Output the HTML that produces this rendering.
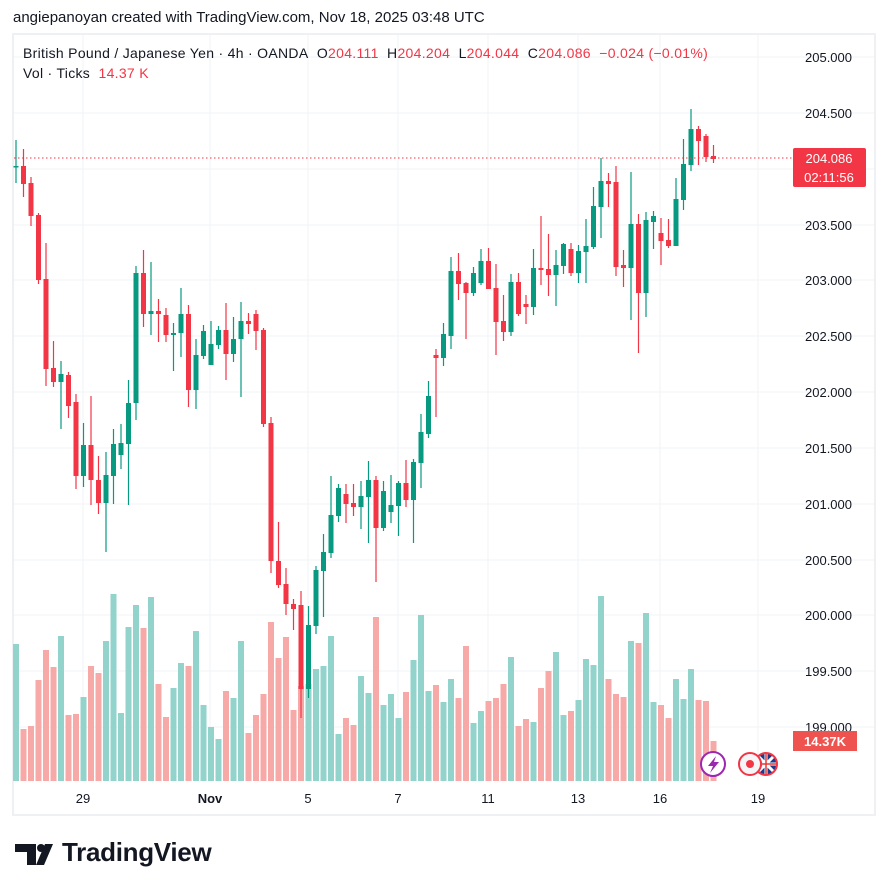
<!DOCTYPE html>
<html><head><meta charset="utf-8">
<style>
body{margin:0;background:#fff;width:887px;height:891px;overflow:hidden;font-family:"Liberation Sans",sans-serif;color:#131722;}
svg{position:absolute;left:0;top:0;}
.t{position:absolute;white-space:nowrap;}
</style></head><body>
<svg id="c" width="887" height="891" xmlns="http://www.w3.org/2000/svg"></svg>
<div class="t" style="left:13px;top:9px;font-size:15px;">angiepanoyan created with TradingView.com, Nov 18, 2025 03:48 UTC</div>
<div class="t" style="left:23px;top:45px;font-size:14px;letter-spacing:0.3px;">British Pound / Japanese Yen · 4h · OANDA&nbsp; O<span style="color:#f23645">204.111</span>&nbsp; H<span style="color:#f23645">204.204</span>&nbsp; L<span style="color:#f23645">204.044</span>&nbsp; C<span style="color:#f23645">204.086</span>&nbsp; <span style="color:#f23645">−0.024 (−0.01%)</span></div>
<div class="t" style="left:23px;top:65px;font-size:14px;letter-spacing:0.3px;">Vol · Ticks&nbsp; <span style="color:#f23645">14.37 K</span></div>
<div class="t" style="left:62px;top:837px;font-size:26px;font-weight:bold;color:#131722;letter-spacing:-0.3px;">TradingView</div>
<script>
var s=document.getElementById('c');var ns='http://www.w3.org/2000/svg';
function el(t,a,txt){var e=document.createElementNS(ns,t);for(var k in a)e.setAttribute(k,a[k]);if(txt!==undefined)e.textContent=txt;s.appendChild(e);return e;}
el('rect',{x:13,y:34,width:862,height:781,fill:'none',stroke:'#eef0f3','stroke-width':2});
var py=[57,113,169,225,280,336,392,448,504,560,615,671,727];
var pl=['205.000','204.500','204.000','203.500','203.000','202.500','202.000','201.500','201.000','200.500','200.000','199.500','199.000'];
py.forEach(function(y){el('line',{x1:14,x2:874,y1:y,y2:y,stroke:'#f2f3f5','stroke-width':1});});
var dx=[83,210,308,398,488,578,660,758],dl=['29','Nov','5','7','11','13','16','19'];
dx.forEach(function(x){el('line',{x1:x,x2:x,y1:35,y2:781,stroke:'#f2f3f5','stroke-width':1});});
py.forEach(function(y,i){if(i!=12)el('text',{x:805,y:y+5,'font-size':13,fill:'#131722','font-family':'Liberation Sans'},pl[i]);});
el('text',{x:805,y:732,'font-size':13,fill:'#131722','font-family':'Liberation Sans'},'199.000');
dx.forEach(function(x,i){el('text',{x:x,y:803,'font-size':13,fill:'#131722','text-anchor':'middle','font-family':'Liberation Sans','font-weight':i==1?'bold':'normal'},dl[i]);});
var vt=[644,729,726,680,650,667,636,715,714,697,666,673,641,594,713,627,605,628,597,684,717,688,663,666,631,705,727,739,691,698,641,733,715,694,622,658,637,710,686,684,669,666,636,734,718,725,676,693,
617,705,694,718,692,660,615,691,685,702,679,698,646,723,711,701,698,684,657,726,719,722,688,671,652,715,711,700,659,665,596,679,694,697,641,643,613,702,705,718,679,699,669,700,701,741];
var vc=[1,0,0,0,0,0,1,0,0,1,0,0,1,1,1,1,1,0,1,0,0,1,1,0,1,1,1,1,0,1,1,0,0,0,0,0,0,0,0,1,1,1,1,1,0,0,1,1,
0,1,1,1,0,1,1,1,0,1,1,0,0,1,1,0,0,0,1,0,0,1,0,0,1,1,0,1,1,1,1,0,0,0,1,0,1,1,0,0,1,1,1,0,0,0];
vt.forEach(function(t,i){var x=16+7.5*i;el('rect',{x:x-3,y:t,width:6,height:781-t,fill:vc[i]?'#92d3cb':'#f7a9a7'});});
var C=[[166,167,140,183,1],[166,184,149,197,0],[183,216,177,226,0],[215,280,213,284,0],[279,369,243,386,0],[368,382,341,387,0],[374,382,361,429,1],[375,406,372,418,0],[402,476,394,489,0],[445,476,423,487,1],[445,480,396,505,0],[480,503,456,514,0],[475,503,452,552,1],[444,476,429,504,1],[443,455,424,469,1],[403,444,380,505,1],[273,403,266,420,1],[273,314,250,327,0],[311,314,262,335,1],[311,314,299,342,0],[315,335,308,342,0],[333,335,323,371,1],[314,333,288,357,1],[314,390,305,407,0],[355,390,339,409,1],[331,356,325,359,1],[344,365,321,365,1],[330,345,326,349,1],[330,354,303,380,0],[339,354,317,362,1],[321,339,302,397,1],[321,324,313,334,0],[314,331,310,350,0],[330,424,328,427,0],[423,561,417,573,0],[561,585,522,588,0],[584,604,568,615,0],[604,609,599,630,0],[605,689,591,718,0],[625,689,606,698,1],[570,626,566,634,1],[552,571,534,617,1],[515,553,476,558,1],[488,516,484,522,1],[494,504,484,523,0],[503,507,484,516,0],[496,507,481,529,1],[480,497,461,543,1],[480,528,476,582,0],[491,528,481,531,1],[505,512,475,523,1],[483,506,481,536,1],[483,500,460,507,0],[462,500,459,543,1],[432,463,414,488,1],[396,434,381,438,1],[355,358,349,417,0],[334,358,323,366,1],[271,336,257,349,1],[271,284,253,300,0],[283,293,282,339,0],[273,293,267,296,1],[261,283,249,285,1],[261,289,248,289,0],[288,322,264,355,0],[321,332,295,341,0],[282,332,274,336,1],[282,314,273,316,0],[304,307,295,324,0],[268,307,249,315,1],[268,270,216,285,0],[269,275,234,296,0],[265,275,250,306,1],[244,266,243,274,1],[249,273,243,276,0],[251,273,245,283,1],[246,252,219,283,1],[206,247,187,249,1],[181,207,158,238,1],[181,184,173,207,0],[182,267,166,276,0],[265,268,250,287,0],[224,268,172,320,1],[224,293,214,353,0],[220,293,212,317,1],[216,222,211,249,1],[233,241,218,265,0],[240,246,219,248,0],[199,246,178,246,1],[164,200,139,210,1],[129,165,109,171,1],[129,141,126,165,0],[136,157,134,162,0],[156,159,145,163,0]];
C.forEach(function(c,i){var x=16+7.5*i;var col=c[4]?'#089981':'#f23645';
el('line',{x1:x,x2:x,y1:c[2],y2:c[3],stroke:col,'stroke-width':1.2});
el('rect',{x:x-2.5,y:c[0],width:5,height:Math.max(1.5,c[1]-c[0]),fill:col});});
el('line',{x1:14,x2:793,y1:158,y2:158,stroke:'#f23645','stroke-width':1,'stroke-dasharray':'1.5,2.5'});
el('rect',{x:793,y:148,width:73,height:39,rx:2,fill:'#f23645'});
el('text',{x:829,y:163,'font-size':13,fill:'#fff','text-anchor':'middle','font-family':'Liberation Sans'},'204.086');
el('text',{x:829,y:182,'font-size':13,fill:'#fff','text-anchor':'middle','font-family':'Liberation Sans'},'02:11:56');
el('rect',{x:793,y:731,width:64,height:20,fill:'#ef5350'});
el('text',{x:825,y:746,'font-size':13,fill:'#fff','text-anchor':'middle','font-family':'Liberation Sans','font-weight':'bold'},'14.37K');
el('circle',{cx:713,cy:764,r:12,fill:'#fff',stroke:'#9c27b0','stroke-width':2});
el('path',{d:'M716 756 L708 766 L713 766 L710 773 L719 762 L714 762 Z',fill:'#9c27b0'});
el('circle',{cx:766,cy:764,r:11,fill:'#1e3a8a',stroke:'#f23645','stroke-width':2});
el('path',{d:'M766 754 V774 M756 764 H776 M759 757 L773 771 M773 757 L759 771',stroke:'#fff','stroke-width':3});
el('path',{d:'M766 754 V774 M756 764 H776',stroke:'#e53935','stroke-width':1.5});
el('circle',{cx:750,cy:764,r:11,fill:'#f5f5f8',stroke:'#f23645','stroke-width':2});
el('circle',{cx:750,cy:764,r:4,fill:'#f23645'});
el('path',{d:'M15 844 H36 V865 H27 V852 H15 Z',fill:'#131722'});
el('circle',{cx:41,cy:848,r:4,fill:'#131722'});
el('path',{d:'M45 844 H53 L44 865 H36 Z',fill:'#131722'});
</script>
</body></html>
